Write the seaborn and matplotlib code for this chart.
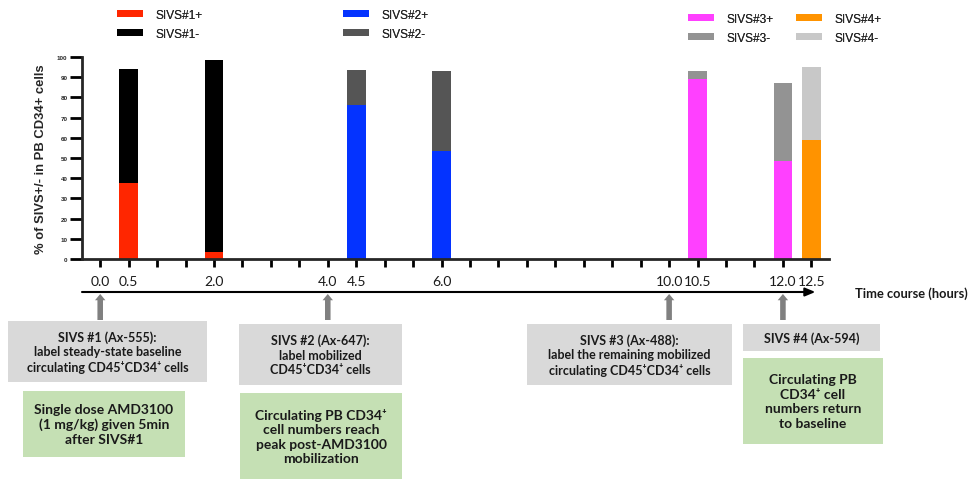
"""
plot.py
-------
Stacked SIVS+/- bars along the time course, with the labelling timeline
and annotation boxes underneath.
"""

import pandas as pd
import matplotlib.pyplot as plt
import seaborn as sns
from matplotlib.patches import Patch, Rectangle
from matplotlib.ticker import MultipleLocator

# ---------------------------------------------------------------------------
# Data
# ---------------------------------------------------------------------------
TIMES = [0.5, 2.0, 4.5, 6.0, 10.5, 12.0, 12.5]
GROUPS = ["SIVS#1", "SIVS#1", "SIVS#2", "SIVS#2", "SIVS#3", "SIVS#3", "SIVS#4"]
POS_PCT = [37.5, 3.5, 76.0, 53.5, 89.0, 48.5, 59.0]
NEG_PCT = [56.5, 95.0, 17.5, 39.5, 4.0, 38.5, 36.0]

SIVS_ORDER = ["SIVS#1", "SIVS#2", "SIVS#3", "SIVS#4"]
POS_COLORS = ["#ff2600", "#0433ff", "#ff40ff", "#ff9300"]
NEG_COLORS = ["#000000", "#555555", "#939393", "#c8c8c8"]

TIMELINE_LABELS = [0.0, 0.5, 2.0, 4.0, 4.5, 6.0, 10.0, 10.5, 12.0, 12.5]
INJECTION_TIMES = [0.0, 4.0, 10.0, 12.0]

GRAY_BOX = "#d9d9d9"
GREEN_BOX = "#c5e0b4"
TEXT_DARK = "#1a1a1a"

# (text, left, top, right, bottom, fill, fontsize) in pixels
BOXES = [
    ("SIVS #1 (Ax-555):\nlabel steady-state baseline\ncirculating CD45\u207aCD34\u207a cells",
     8, 322, 207, 383, GRAY_BOX, 9.0),
    ("Single dose AMD3100\n(1 mg/kg) given 5min\nafter SIVS#1",
     23, 392, 185, 458, GREEN_BOX, 10.0),
    ("SIVS #2 (Ax-647):\nlabel mobilized\nCD45\u207aCD34\u207a cells",
     239, 325, 402, 386, GRAY_BOX, 9.0),
    ("Circulating PB CD34\u207a\ncell numbers reach\npeak post-AMD3100\nmobilization",
     240, 394, 402, 480, GREEN_BOX, 10.0),
    ("SIVS #3 (Ax-488):\nlabel the remaining mobilized\ncirculating CD45\u207aCD34\u207a cells",
     527, 325, 732, 386, GRAY_BOX, 9.0),
    ("SIVS #4 (Ax-594)",
     743, 325, 880, 352, GRAY_BOX, 9.0),
    ("Circulating PB\nCD34\u207a cell\nnumbers return\nto baseline",
     743, 359, 883, 445, GREEN_BOX, 10.0),
]

W, H = 969, 481
AX_LEFT, AX_RIGHT, AX_TOP, AX_BOTTOM = 82, 829, 58, 260

sns.set_style("ticks")
plt.rcParams["font.family"] = ["Liberation Sans", "DejaVu Sans"]
BOX_FONT = ["Lato", "DejaVu Sans"]


def fx(px):
    return px / W


def fy(py):
    return 1 - py / H


def ay(py):
    """pixel row -> axes y fraction"""
    return (AX_BOTTOM - py) / (AX_BOTTOM - AX_TOP)


df = pd.DataFrame({"time": TIMES, "group": GROUPS, "pos": POS_PCT, "neg": NEG_PCT})
df["total"] = df["pos"] + df["neg"]

fig = plt.figure(figsize=(W / 100, H / 100), dpi=100)
ax = fig.add_axes([fx(AX_LEFT), fy(AX_BOTTOM), (AX_RIGHT - AX_LEFT) / W,
                   (AX_BOTTOM - AX_TOP) / H])

common = dict(data=df, x="time", hue="group", hue_order=SIVS_ORDER,
              native_scale=True, dodge=False, width=0.66, errorbar=None,
              saturation=1, linewidth=0, legend=False, ax=ax)
sns.barplot(y="total", palette=dict(zip(SIVS_ORDER, NEG_COLORS)), **common)
sns.barplot(y="pos", palette=dict(zip(SIVS_ORDER, POS_COLORS)), **common)

ax.set_xlim(-0.32, 12.81)
ax.set_ylim(0, 100)
ax.xaxis.set_major_locator(MultipleLocator(0.5))
ax.set_xticklabels([])
ax.set_yticks(range(0, 101, 10))
ax.tick_params(axis="x", length=6, width=2, color="black")
ax.tick_params(axis="y", length=9, width=2, pad=1.5, labelsize=4.5, color="black")
for lab in ax.get_yticklabels():
    lab.set_fontweight("bold")
ax.set_xlabel("")
ax.set_ylabel("% of SIVS+/- in PB CD34+ cells", fontsize=9.4, fontweight="bold")
ax.yaxis.set_label_coords((47 - AX_LEFT) / (AX_RIGHT - AX_LEFT), 0.5)
sns.despine(ax=ax)
for side in ("left", "bottom"):
    ax.spines[side].set_linewidth(2)

# ---------------------------------------------------------------------------
# Timeline under the chart
# ---------------------------------------------------------------------------
xtr = ax.get_xaxis_transform()
ax.annotate("", xy=(12.57, ay(293)), xytext=(-0.32, ay(293)),
            xycoords=xtr, textcoords=xtr, annotation_clip=False,
            arrowprops=dict(arrowstyle="-|>,head_length=0.6,head_width=0.25",
                            color="black", lw=1.5, shrinkA=0, shrinkB=0))
for t in TIMELINE_LABELS:
    ax.text(t, ay(282), f"{t:.1f}", transform=xtr, ha="center", va="center",
            fontsize=10, family=BOX_FONT, color=TEXT_DARK, clip_on=False)
for t in INJECTION_TIMES:
    ax.annotate("", xy=(t, ay(295)), xytext=(t, ay(321)),
                xycoords=xtr, textcoords=xtr, annotation_clip=False,
                arrowprops=dict(width=4, headwidth=7.5, headlength=4.5,
                                color="#808080", lw=0, shrinkA=0, shrinkB=0))
fig.text(fx(855), fy(294), "Time course (hours)", ha="left", va="center",
         fontsize=9.3, fontweight="bold", family=BOX_FONT, color=TEXT_DARK)

for text, x0, y0, x1, y1, face, size in BOXES:
    fig.add_artist(Rectangle((fx(x0), fy(y1)), (x1 - x0) / W, (y1 - y0) / H,
                             transform=fig.transFigure, facecolor=face,
                             edgecolor="none"))
    fig.text(fx((x0 + x1) / 2), fy((y0 + y1) / 2), text, ha="center",
             va="center", fontsize=size, fontweight="bold", family=BOX_FONT,
             color=TEXT_DARK, linespacing=1.25)

# ---------------------------------------------------------------------------
# Legends
# ---------------------------------------------------------------------------
def _legend(names, colors, x, y, ncol=1):
    handles = [Patch(facecolor=c, edgecolor="none") for c in colors]
    leg = fig.legend(handles, names, loc="upper left",
                     bbox_to_anchor=(fx(x), fy(y)), ncol=ncol, frameon=False,
                     fontsize=8.6, handlelength=2.2, handleheight=0.55,
                     handletextpad=1.0, labelspacing=0.55, columnspacing=1.9,
                     borderpad=0, borderaxespad=0)
    fig.add_artist(leg)


_legend(["SIVS#1+", "SIVS#1-"], [POS_COLORS[0], NEG_COLORS[0]], 117, 10)
_legend(["SIVS#2+", "SIVS#2-"], [POS_COLORS[1], NEG_COLORS[1]], 343, 10)
_legend(["SIVS#3+", "SIVS#3-", "SIVS#4+", "SIVS#4-"],
        [POS_COLORS[2], NEG_COLORS[2], POS_COLORS[3], NEG_COLORS[3]],
        688, 14, ncol=2)

fig.savefig("out.png", dpi=100)
